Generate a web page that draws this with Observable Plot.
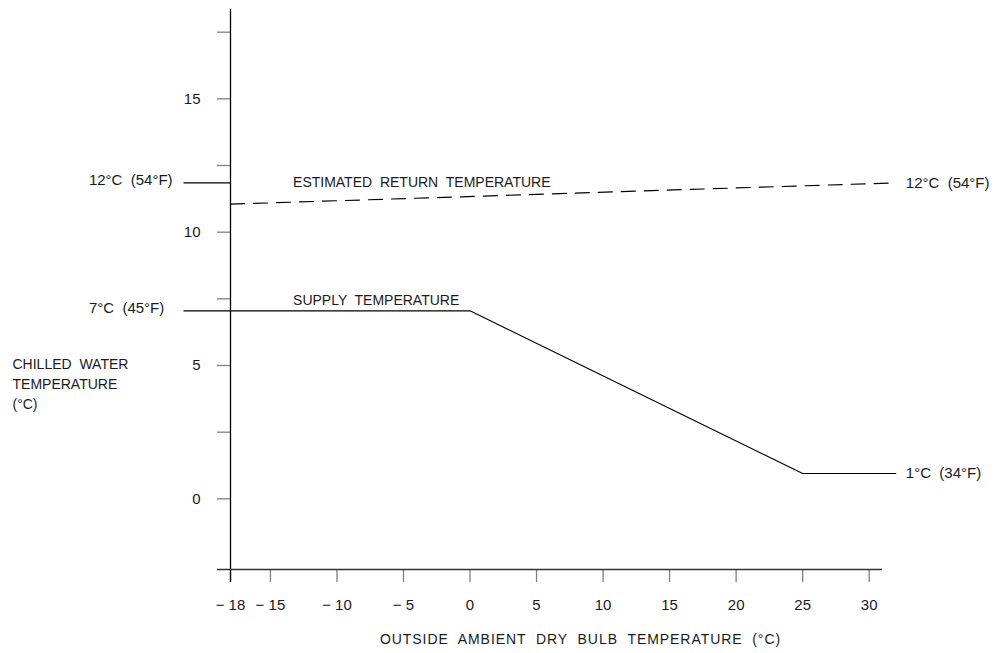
<!DOCTYPE html>
<html>
<head>
<meta charset="utf-8">
<script src="https://cdn.jsdelivr.net/npm/d3@7"></script>
<script src="https://cdn.jsdelivr.net/npm/@observablehq/plot@0.6"></script>
<style>
  html, body { margin: 0; padding: 0; background: #fff; }
  svg { display: block; }
</style>
</head>
<body>
<div id="chart"></div>
<script>
// Supply temperature (°C) vs outside ambient (°C), incl. leader extension to labels
const supplyX = [-21.5, 0, 25, 32];
const supplyY = [7.2, 7.2, 1.1, 1.1];
// Estimated return temperature (dashed)
const returnX = [-18, 32];
const returnY = [11.2, 12.0];
// Leader for left 12°C label
const leaderX = [-21.5, -18];
const leaderY = [12, 12];

const xTicks = [-18, -15, -10, -5, 0, 5, 10, 15, 20, 25, 30];
const yTicks = [0, 2.5, 5, 7.5, 10, 12.5, 15, 17.5];
const yLabelTicks = [0, 5, 10, 15];

const leftLabels = [
  {x: -21.5, y: 12, text: "12°C  (54°F)"},
  {x: -21.5, y: 7.2, text: "7°C  (45°F)"}
];
const rightLabels = [
  {x: 32, y: 12, text: "12°C  (54°F)"},
  {x: 32, y: 1.1, text: "1°C  (34°F)"}
];
const lineLabels = [
  {x: -13.3, y: 12.0, text: "ESTIMATED  RETURN  TEMPERATURE"},
  {x: -13.3, y: 7.6, text: "SUPPLY  TEMPERATURE"}
];
const xTitle = "OUTSIDE  AMBIENT  DRY  BULB  TEMPERATURE  (°C)";
const yTitle = "CHILLED  WATER\nTEMPERATURE\n(°C)";

const font = "Liberation Sans, Arial, sans-serif";
const txt = "#1a1a1a";

const toPts = (xs, ys) => xs.map((x, i) => ({x, y: ys[i]}));

const chart = Plot.plot({
  width: 1005,
  height: 653,
  marginLeft: 230,
  marginRight: 123,
  marginTop: 9,
  marginBottom: 84,
  style: {fontFamily: font, fontSize: "14px", background: "#fff", color: txt},
  x: {domain: [-18, 31], label: null},
  y: {domain: [-2.5, 18.5], label: null},
  marks: [
    Plot.axisY({ticks: yTicks, tickSize: 13, tickPadding: 17, stroke: "#808080", strokeWidth: 1.3, label: null,
      tickFormat: d => yLabelTicks.includes(d) ? String(d) : "", fill: txt, fontSize: 15, dy: -4}),
    Plot.axisX({ticks: xTicks, tickSize: 13, tickPadding: 17, stroke: "#808080", strokeWidth: 1.3, label: null,
      tickFormat: d => d < 0 ? "− " + Math.abs(d) : String(d), fill: txt, fontSize: 15}),
    Plot.ruleX([-18], {y1: -2.99, y2: 18.5, stroke: "#000", strokeWidth: 1.3}),
    Plot.ruleY([-2.5], {x1: -18.98, x2: 31, stroke: "#333", strokeWidth: 1.3}),
    Plot.line(toPts(supplyX, supplyY), {x: "x", y: "y", stroke: "#000", strokeWidth: 1.2}),
    Plot.line(toPts(leaderX, leaderY), {x: "x", y: "y", stroke: "#000", strokeWidth: 1.2}),
    Plot.line(toPts(returnX, returnY), {x: "x", y: "y", stroke: "#000", strokeWidth: 1.2, strokeDasharray: "14,9"}),
    Plot.text(leftLabels, {x: "x", y: "y", text: "text", textAnchor: "start", dx: -95, dy: -3, fill: txt, fontSize: 15}),
    Plot.text(rightLabels, {x: "x", y: "y", text: "text", textAnchor: "start", dx: 10, fill: txt, fontSize: 15}),
    Plot.text(lineLabels, {x: "x", y: "y", text: "text", textAnchor: "start", fill: txt, fontSize: 14}),
    Plot.text([xTitle], {frameAnchor: "bottom", dy: 74, dx: 24, fill: txt, fontSize: 14, className: "xtitle"}),
    Plot.text([yTitle], {frameAnchor: "left", y: () => 5, dx: -218, dy: 13, textAnchor: "start", lineHeight: 1.45, fill: txt, fontSize: 14})
  ]
});
chart.querySelectorAll("text").forEach(t => t.setAttribute("xml:space", "preserve"));
chart.style.whiteSpace = "pre";
chart.querySelectorAll(".xtitle text").forEach(t => t.style.letterSpacing = "0.95px");
document.getElementById("chart").appendChild(chart);
</script>
</body>
</html>
